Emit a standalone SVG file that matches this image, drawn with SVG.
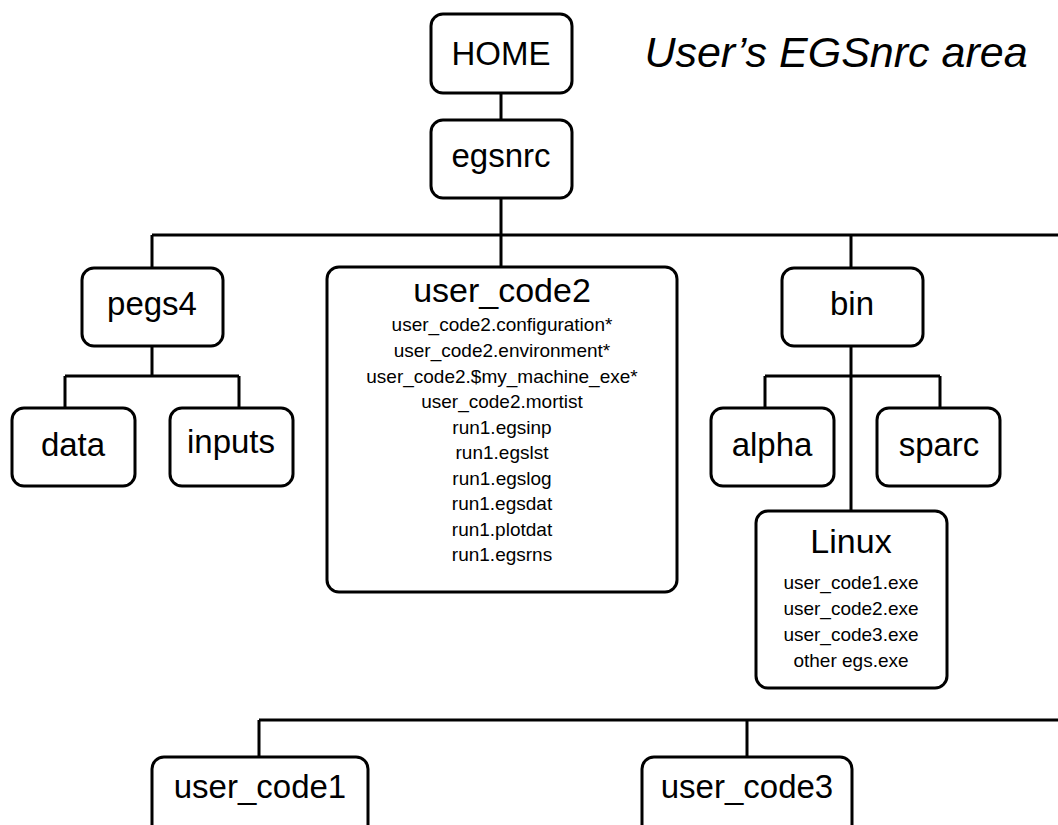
<svg xmlns="http://www.w3.org/2000/svg" width="1058" height="825" viewBox="0 0 1058 825">
<style>
.box{fill:#fff;stroke:#000;stroke-width:3}
.ln{fill:none;stroke:#000;stroke-width:3}
text{font-family:"Liberation Sans",Arial,sans-serif;fill:#000;text-anchor:middle}
.big{font-size:33px}
.ttl{font-size:34px}
.sm{font-size:19px}
</style>
<rect width="1058" height="825" fill="#fff"/>
<g id="connectors">
<path class="ln" d="M501 93V120M501 198V235M152 235H1058M152 235V268M501 235V268M851 235V268"/>
<path class="ln" d="M152 346V376M65 376H239M65 376V408M239 376V408"/>
<path class="ln" d="M851 346V510M765 376H940M765 376V408M940 376V408"/>
<path class="ln" d="M259 720H1058M259 720V757M747 720V757"/>
</g>
<text x="836" y="67" style="font-size:43px;font-style:italic">User’s EGSnrc area</text>
<g id="home"><rect class="box" x="431" y="14" width="141" height="79" rx="12"/><text class="big" x="501" y="65">HOME</text></g>
<g id="egsnrc"><rect class="box" x="431" y="120" width="141" height="78" rx="12"/><text class="big" x="501" y="167">egsnrc</text></g>
<g id="pegs4"><rect class="box" x="82" y="268" width="141" height="78" rx="12"/><text class="big" x="152" y="315">pegs4</text></g>
<g id="data"><rect class="box" x="12" y="408" width="123" height="78" rx="12"/><text class="big" x="73" y="456">data</text></g>
<g id="inputs"><rect class="box" x="170" y="408" width="123" height="78" rx="12"/><text class="big" x="231" y="453">inputs</text></g>
<g id="user_code2"><rect class="box" x="327" y="267" width="350" height="325" rx="12"/>
<text class="ttl" x="502" y="302">user_code2</text>
<text class="sm" x="502" y="331">user_code2.configuration*</text>
<text class="sm" x="502" y="357">user_code2.environment*</text>
<text class="sm" x="502" y="383">user_code2.$my_machine_exe*</text>
<text class="sm" x="502" y="408">user_code2.mortist</text>
<text class="sm" x="502" y="434">run1.egsinp</text>
<text class="sm" x="502" y="459">run1.egslst</text>
<text class="sm" x="502" y="485">run1.egslog</text>
<text class="sm" x="502" y="510">run1.egsdat</text>
<text class="sm" x="502" y="536">run1.plotdat</text>
<text class="sm" x="502" y="561">run1.egsrns</text>
</g>
<g id="bin"><rect class="box" x="782" y="268" width="141" height="78" rx="12"/><text class="big" x="852" y="315">bin</text></g>
<g id="alpha"><rect class="box" x="711" y="408" width="123" height="78" rx="12"/><text class="big" x="772" y="456">alpha</text></g>
<g id="sparc"><rect class="box" x="877" y="408" width="123" height="78" rx="12"/><text class="big" x="939" y="456">sparc</text></g>
<g id="linux"><rect class="box" x="756" y="511" width="191" height="177" rx="12"/>
<text class="ttl" x="851" y="553">Linux</text>
<text class="sm" x="851" y="589">user_code1.exe</text>
<text class="sm" x="851" y="615">user_code2.exe</text>
<text class="sm" x="851" y="641">user_code3.exe</text>
<text class="sm" x="851" y="667">other egs.exe</text>
</g>
<g id="user_code1"><rect class="box" x="152" y="757" width="216" height="100" rx="12"/><text class="big" x="260" y="798">user_code1</text></g>
<g id="user_code3"><rect class="box" x="642" y="757" width="210" height="100" rx="12"/><text class="big" x="747" y="798">user_code3</text></g>
</svg>
